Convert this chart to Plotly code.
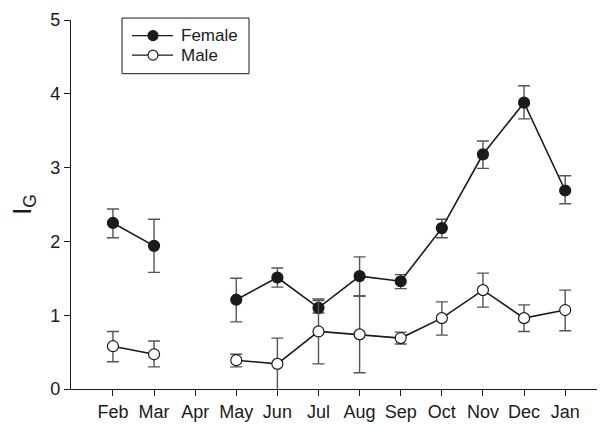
import plotly.graph_objects as go

months = ["Feb", "Mar", "Apr", "May", "Jun", "Jul", "Aug", "Sep", "Oct", "Nov", "Dec", "Jan"]

female = [2.25, 1.94, None, 1.21, 1.51, 1.10, 1.53, 1.46, 2.18, 3.18, 3.88, 2.69]
female_hi = [2.44, 2.30, None, 1.50, 1.64, 1.20, 1.79, 1.55, 2.30, 3.36, 4.11, 2.89]
female_lo = [2.05, 1.58, None, 0.91, 1.38, 1.03, 1.26, 1.36, 2.05, 2.99, 3.66, 2.51]

male = [0.58, 0.47, None, 0.39, 0.34, 0.78, 0.74, 0.69, 0.96, 1.34, 0.96, 1.07]
male_hi = [0.78, 0.65, None, 0.47, 0.69, 1.22, 1.26, 0.77, 1.18, 1.57, 1.14, 1.34]
male_lo = [0.37, 0.30, None, 0.30, -0.01, 0.34, 0.22, 0.61, 0.73, 1.11, 0.78, 0.79]

series_names = ["Female", "Male"]
series_fill = ["#1a1a1a", "white"]


def plus(v, hi):
    return [None if a is None else h - a for a, h in zip(v, hi)]


def minus(v, lo):
    return [None if a is None else a - l for a, l in zip(v, lo)]


x = list(range(len(months)))
INK = "#1a1a1a"

fig = go.Figure()
for name, fill, v, hi, lo in [
    (series_names[0], series_fill[0], female, female_hi, female_lo),
    (series_names[1], series_fill[1], male, male_hi, male_lo),
]:
    fig.add_trace(go.Scatter(
        x=x, y=v, name=name, mode="lines+markers",
        line=dict(color=INK, width=1.6),
        marker=dict(size=11, color=fill, line=dict(color=INK, width=1.2)),
        error_y=dict(type="data", symmetric=False, array=plus(v, hi),
                     arrayminus=minus(v, lo), color="#555555",
                     thickness=1.4, width=6),
    ))

W, H = 597, 416
L, R, T, B = 63, 2, 9, 29
PW, PH = W - L - R, H - T - B


def px(p):
    return (p - L) / PW


def py(p):
    return 1 - (p - T) / PH


shapes = [dict(type="rect", xref="paper", yref="paper",
               x0=px(114), x1=px(241), y0=py(64), y1=py(7),
               line=dict(color=INK, width=1), fillcolor="white", layer="above")]
annotations = []
for i, (name, fill) in enumerate(zip(series_names, series_fill)):
    yy = 25 + 20 * i
    shapes.append(dict(type="line", xref="paper", yref="paper",
                       x0=px(124), x1=px(165), y0=py(yy), y1=py(yy),
                       line=dict(color=INK, width=1.4), layer="above"))
    shapes.append(dict(type="circle", xref="paper", yref="paper",
                       xsizemode="pixel", ysizemode="pixel",
                       xanchor=px(145), yanchor=py(yy),
                       x0=-5, x1=5, y0=-5, y1=5,
                       line=dict(color=INK, width=1.2), fillcolor=fill, layer="above"))
    annotations.append(dict(text=name, xref="paper", yref="paper",
                            x=px(171), y=py(yy), xanchor="left", yanchor="middle",
                            showarrow=False, font=dict(size=17, color=INK)))

fig.update_layout(
    width=W, height=H,
    margin=dict(l=L, r=R, t=T, b=B),
    paper_bgcolor="white", plot_bgcolor="white",
    font=dict(family="Liberation Sans, Arial, sans-serif", size=18, color=INK),
    showlegend=False,
    shapes=shapes,
    annotations=annotations,
    xaxis=dict(
        range=[-1.02, 11.92], tickmode="array", tickvals=x, ticktext=months,
        showgrid=False, zeroline=False, showline=True, linecolor=INK, linewidth=1.3,
        ticks="outside", ticklen=6, tickcolor=INK, tickwidth=1,
    ),
    yaxis=dict(
        range=[0, 5], tickmode="array", tickvals=[0, 1, 2, 3, 4, 5],
        ticklabeloverflow="allow",
        showgrid=False, zeroline=False, showline=True, linecolor=INK, linewidth=1.3,
        ticks="outside", ticklen=6, tickcolor=INK, tickwidth=1,
        title=dict(text="I<sub>G</sub>", font=dict(size=25), standoff=14),
    ),
)

fig.write_html("out.html")
